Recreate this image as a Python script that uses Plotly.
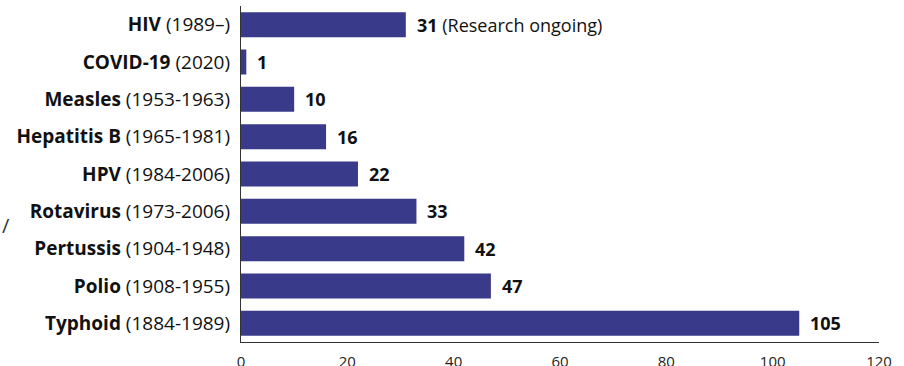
import plotly.graph_objects as go

diseases = ["Typhoid", "Polio", "Pertussis", "Rotavirus", "HPV", "Hepatitis B", "Measles", "COVID-19", "HIV"]
periods = ["(1884-1989)", "(1908-1955)", "(1904-1948)", "(1973-2006)", "(1984-2006)", "(1965-1981)", "(1953-1963)", "(2020)", "(1989–)"]
years = [105, 47, 42, 33, 22, 16, 10, 1, 31]
notes = ["", "", "", "", "", "", "", "", " (Research ongoing)"]
x_ticks = [0, 20, 40, 60, 80, 100, 120]

BAR = "#3a3a8a"
FONT = "Open Sans"

cats = [f"<b>{d}</b> {p}" for d, p in zip(diseases, periods)]

fig = go.Figure(go.Bar(
    x=years, y=cats, orientation="h",
    marker=dict(color=BAR, line=dict(width=0)),
    hoverinfo="skip",
))

for c, v, n in zip(cats, years, notes):
    fig.add_annotation(
        x=v, y=c, xref="x", yref="y", text=f"<b>{v}</b>{n}",
        showarrow=False, xanchor="left", xshift=9,
        font=dict(family=FONT, size=18, color="#111111"),
    )

fig.add_annotation(xref="paper", yref="paper", x=-241/638, y=(366-24-225)/336,
                   text="/", showarrow=False, xanchor="left", yanchor="middle",
                   font=dict(family=FONT, size=20, color="#333333"))

fig.update_layout(
    width=904, height=366,
    margin=dict(l=241, r=25, t=6, b=24, autoexpand=False),
    paper_bgcolor="white", plot_bgcolor="white",
    bargap=0.33,
    showlegend=False,
    font=dict(family=FONT, color="#111111"),
    xaxis=dict(
        range=[0, 120], tickvals=x_ticks, showgrid=False, zeroline=False,
        showline=True, linecolor="#333333", linewidth=1.2, automargin=False,
        ticks="", ticklabelstandoff=6,
        tickfont=dict(family="Open Sans", size=15, color="#222222"),
    ),
    yaxis=dict(
        showgrid=False, zeroline=False, showline=True, linecolor="#333333", linewidth=1.2,
        ticks="", ticklabelstandoff=6, automargin=False,
        tickfont=dict(family=FONT, size=19, color="#111111"),
    ),
)

fig.write_html("out.html")
